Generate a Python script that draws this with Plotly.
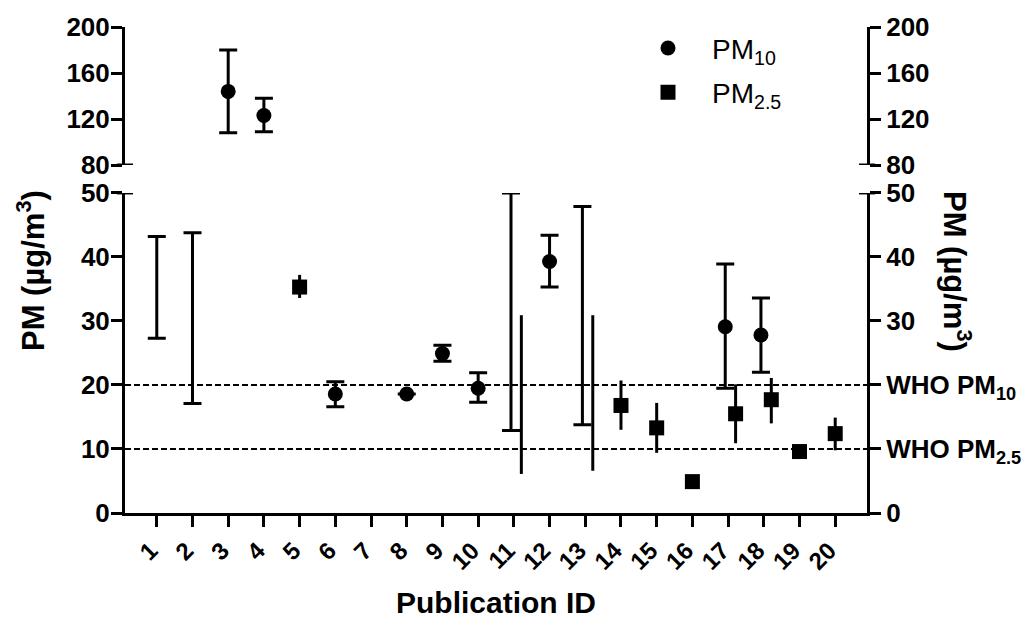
import plotly.graph_objects as go

# Publication IDs on the x axis
pub_ids = list(range(1, 21))
tick_labels = [str(i) for i in pub_ids]

# PM10 studies reporting a mean with min/max
pm10_ids = [3, 4, 6, 8, 9, 10, 12, 17, 18]
pm10_mean = [144.0, 123.0, 18.6, 18.6, 24.9, 19.5, 39.3, 29.1, 27.8]
pm10_low = [108.0, 109.0, 16.6, 18.6, 23.7, 17.3, 35.3, 19.5, 22.0]
pm10_high = [180.0, 138.0, 20.5, 18.6, 26.2, 21.9, 43.4, 38.9, 33.6]

# PM10 studies reporting only a range
pm10_rng_ids = [1, 2, 11, 13]
pm10_rng_low = [27.3, 17.1, 12.9, 13.8]
pm10_rng_high = [43.2, 43.8, 50.0, 47.9]

# PM2.5 studies reporting a mean with min/max
pm25_ids = [5, 14, 15, 16, 17, 18, 19, 20]
pm25_mean = [35.3, 16.8, 13.3, 4.9, 15.5, 17.7, 9.6, 12.4]
pm25_low = [33.6, 13.0, 9.4, 4.9, 10.9, 14.0, 9.6, 9.8]
pm25_high = [37.2, 20.7, 17.2, 4.9, 20.1, 21.1, 9.6, 14.9]

# PM2.5 studies reporting only a range
pm25_rng_ids = [11, 13]
pm25_rng_low = [6.1, 6.6]
pm25_rng_high = [30.9, 30.9]

# WHO annual guideline values
who_pm10 = 20
who_pm25 = 10

# axis ranges for the broken y axis
low_range = [0, 50]
high_range = [80, 200]
low_ticks = [0, 10, 20, 30, 40, 50]
high_ticks = [80, 120, 160, 200]

FONT = "Liberation Sans, Arial, sans-serif"
BLACK = "#000000"
LW = 3

# IDs that report both fractions are nudged apart
both = set(pm10_ids + pm10_rng_ids) & set(pm25_ids + pm25_rng_ids)
OFF10, OFF25 = -0.08, 0.21


def xpos(ids, off):
    return [i + off if i in both else i for i in ids]


def err(mean, low, high, width, thickness=LW):
    return dict(type="data", symmetric=False,
                array=[h - m for h, m in zip(high, mean)],
                arrayminus=[m - l for m, l in zip(mean, low)],
                color=BLACK, thickness=thickness, width=width)


def pick(seq, idx):
    return [seq[k] for k in idx]


fig = go.Figure()

# split PM10 means between the lower (0-50) and upper (80-200) panels
lo_idx = [k for k, v in enumerate(pm10_mean) if v <= low_range[1]]
hi_idx = [k for k, v in enumerate(pm10_mean) if v > low_range[1]]

x10 = xpos(pm10_ids, OFF10)
fig.add_trace(go.Scatter(
    x=pick(x10, lo_idx), y=pick(pm10_mean, lo_idx), mode="markers",
    name="PM<sub>10</sub>", legendgroup="pm10",
    marker=dict(symbol="circle", size=15, color=BLACK),
    error_y=err(pick(pm10_mean, lo_idx), pick(pm10_low, lo_idx),
                pick(pm10_high, lo_idx), 9),
    xaxis="x", yaxis="y"))
fig.add_trace(go.Scatter(
    x=pick(x10, hi_idx), y=pick(pm10_mean, hi_idx), mode="markers",
    showlegend=False, legendgroup="pm10",
    marker=dict(symbol="circle", size=15, color=BLACK),
    error_y=err(pick(pm10_mean, hi_idx), pick(pm10_low, hi_idx),
                pick(pm10_high, hi_idx), 9),
    xaxis="x", yaxis="y2"))

# PM10 ranges: capped bars without a marker
mid10 = [(a + b) / 2 for a, b in zip(pm10_rng_low, pm10_rng_high)]
fig.add_trace(go.Scatter(
    x=xpos(pm10_rng_ids, OFF10), y=mid10, mode="markers", showlegend=False,
    marker=dict(size=1, color="rgba(0,0,0,0)"), hoverinfo="skip",
    error_y=err(mid10, pm10_rng_low, pm10_rng_high, 9),
    xaxis="x", yaxis="y"))

fig.add_trace(go.Scatter(
    x=xpos(pm25_ids, OFF25), y=pm25_mean, mode="markers",
    name="PM<sub>2.5</sub>", legendgroup="pm25",
    marker=dict(symbol="square", size=15, color=BLACK),
    error_y=err(pm25_mean, pm25_low, pm25_high, 0),
    xaxis="x", yaxis="y"))

# PM2.5 ranges: plain vertical lines
mid25 = [(a + b) / 2 for a, b in zip(pm25_rng_low, pm25_rng_high)]
fig.add_trace(go.Scatter(
    x=xpos(pm25_rng_ids, OFF25), y=mid25, mode="markers", showlegend=False,
    marker=dict(size=1, color="rgba(0,0,0,0)"), hoverinfo="skip",
    error_y=err(mid25, pm25_rng_low, pm25_rng_high, 0),
    xaxis="x", yaxis="y"))

# transparent copies so the right-hand axes get drawn
fig.add_trace(go.Scatter(
    x=xpos(pm25_ids, OFF25), y=pm25_mean, mode="markers", showlegend=False,
    marker=dict(size=1, color="rgba(0,0,0,0)"), hoverinfo="skip",
    xaxis="x", yaxis="y3"))
fig.add_trace(go.Scatter(
    x=pick(x10, hi_idx), y=pick(pm10_mean, hi_idx), mode="markers",
    showlegend=False, marker=dict(size=1, color="rgba(0,0,0,0)"),
    hoverinfo="skip", xaxis="x", yaxis="y4"))

W, H = 1033, 626
ML, MR, MT, MB = 125, 166, 21, 113
plot_w = W - ML - MR
plot_h = H - MT - MB
low_top = (513 - 189) / plot_h
high_bot = (513 - 160.7) / plot_h

tickfont = dict(family=FONT, size=26, color=BLACK, weight="bold")
xtickfont = dict(family=FONT, size=24, color=BLACK, weight="bold")
yax_common = dict(showgrid=False, zeroline=False, showline=True,
                  linecolor=BLACK, linewidth=LW, ticks="outside",
                  ticklen=11, tickwidth=LW, tickcolor=BLACK,
                  tickfont=tickfont, fixedrange=True)

who_text = {who_pm10: "WHO PM<sub>10</sub>", who_pm25: "WHO PM<sub>2.5</sub>"}
right_low_text = [who_text.get(v, str(v)) for v in low_ticks]

fig.update_layout(
    width=W, height=H,
    margin=dict(l=ML, r=MR, t=MT, b=MB),
    paper_bgcolor="white", plot_bgcolor="white",
    font=dict(family=FONT, color=BLACK),
    xaxis=dict(range=[0.11, 20.89], tickvals=pub_ids, ticktext=tick_labels,
               tickangle=-45, showgrid=False, zeroline=False, showline=True,
               linecolor=BLACK, linewidth=LW, ticks="outside", ticklen=11,
               tickwidth=LW, tickcolor=BLACK, tickfont=xtickfont,
               ticklabelstandoff=0, ticklabelshift=-6,
               anchor="y", fixedrange=True),
    yaxis=dict(domain=[0, low_top], range=low_range, tickvals=low_ticks,
               anchor="x", ticklabelstandoff=-4, **yax_common),
    yaxis2=dict(domain=[high_bot, 1], range=high_range, tickvals=high_ticks,
                anchor="x", ticklabelstandoff=-4, **yax_common),
    yaxis3=dict(domain=[0, low_top], range=low_range, tickvals=low_ticks,
                ticktext=right_low_text, overlaying="y", side="right",
                anchor="x", **yax_common),
    yaxis4=dict(domain=[high_bot, 1], range=high_range, tickvals=high_ticks,
                overlaying="y2", side="right", anchor="x", **yax_common),
    legend=dict(x=(624 - ML) / plot_w, y=1 + (MT - 17.2) / plot_h,
                xanchor="left", yanchor="top",
                font=dict(family=FONT, size=28, color=BLACK),
                bgcolor="rgba(0,0,0,0)", itemwidth=78,
                traceorder="grouped", tracegroupgap=5),
    showlegend=True,
)

# WHO guideline lines
for v in (who_pm10, who_pm25):
    fig.add_shape(type="line", xref="x domain", yref="y", x0=0, x1=1,
                  y0=v, y1=v, line=dict(color=BLACK, width=1.8, dash="6px,3px"))

# axis-break marks crossing the spines
for yref, yv in (("y", low_range[1]), ("y2", high_range[0])):
    for anchor in (0, 1):
        fig.add_shape(type="line", xref="paper", xsizemode="pixel",
                      xanchor=anchor, x0=-8, x1=8, yref=yref, y0=yv, y1=yv,
                      line=dict(color=BLACK, width=LW))

title_font = dict(family=FONT, size=31, color=BLACK, weight="bold")
fig.add_annotation(text="PM (µg/m<sup>3</sup>)", xref="paper", yref="paper",
                   x=(31 - ML) / plot_w, y=(513 - 268) / plot_h, textangle=-90,
                   showarrow=False, font=title_font,
                   xanchor="center", yanchor="middle")
fig.add_annotation(text="PM (µg/m<sup>3</sup>)", xref="paper", yref="paper",
                   x=(957 - ML) / plot_w, y=(513 - 268) / plot_h, textangle=90,
                   showarrow=False, font=title_font,
                   xanchor="center", yanchor="middle")
fig.add_annotation(text="Publication ID", xref="paper", yref="paper",
                   x=0.5, y=(513 - 604) / plot_h, showarrow=False,
                   font=dict(family=FONT, size=30, color=BLACK, weight="bold"),
                   xanchor="center", yanchor="middle")

fig.write_html("out.html")
